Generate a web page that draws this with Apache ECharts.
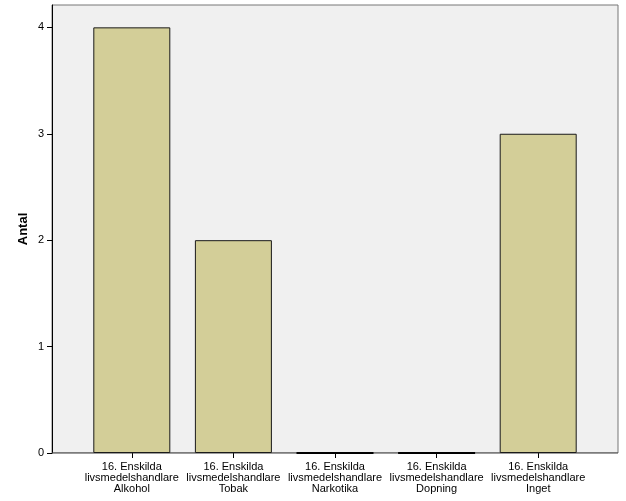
<!DOCTYPE html>
<html><head><meta charset="utf-8">
<script src="https://cdn.jsdelivr.net/npm/echarts@6/dist/echarts.min.js"></script>
<style>html,body{margin:0;padding:0;background:#fff}#c{width:626px;height:501px}</style>
</head><body><div id="c"></div>
<script>
const categories = [
  "16. Enskilda\nlivsmedelshandlare\nAlkohol",
  "16. Enskilda\nlivsmedelshandlare\nTobak",
  "16. Enskilda\nlivsmedelshandlare\nNarkotika",
  "16. Enskilda\nlivsmedelshandlare\nDopning",
  "16. Enskilda\nlivsmedelshandlare\nInget"
];
const values = [4, 2, 0, 0, 3];
const yTicks = [0, 1, 2, 3, 4];
const yMax = 4.21;
const font = "Liberation Sans, Arial, sans-serif";

const barData = values.map(v => v === 0
  ? {value: v, itemStyle: {borderColor: '#000', borderWidth: 2}}
  : v);

const chart = echarts.init(document.getElementById('c'), null, {renderer: 'canvas'});
chart.setOption({
  animation: false,
  backgroundColor: '#ffffff',
  grid: [
    {left: 52, top: 5, width: 566, height: 448, show: true, backgroundColor: '#f0f0f0', borderColor: '#777', borderWidth: 1},
    {left: 81, top: 5, width: 508, height: 448}
  ],
  xAxis: [
    {gridIndex: 0, type: 'value', min: 0, max: 1, show: false},
    {gridIndex: 1, type: 'category', data: categories,
     axisLine: {show: false},
     axisTick: {show: true, alignWithLabel: true, length: 5, lineStyle: {color: '#000'}},
     axisLabel: {color: '#000', fontFamily: font, fontSize: 11, lineHeight: 11, margin: 8, interval: 0}
    }
  ],
  yAxis: [
    {gridIndex: 0, type: 'value', min: 0, max: yMax,
     name: 'Antal', nameLocation: 'middle', nameGap: 22, nameMoveOverlap: false,
     nameTextStyle: {fontFamily: font, fontSize: 13, fontWeight: 'bold', color: '#000'},
     axisLine: {show: true, lineStyle: {color: '#000', width: 1}},
     axisTick: {show: true, length: 5, lineStyle: {color: '#000'}, customValues: yTicks},
     axisLabel: {color: '#000', fontFamily: font, fontSize: 11, margin: 8, customValues: yTicks},
     splitLine: {show: false}
    },
    {gridIndex: 1, type: 'value', min: 0, max: yMax, show: false}
  ],
  series: [
    {type: 'line', xAxisIndex: 0, yAxisIndex: 0, data: [[0, 0], [1, 0]], symbol: 'none',
     lineStyle: {color: '#444', width: 1}, silent: true, z: 3},
    {type: 'bar', xAxisIndex: 1, yAxisIndex: 1, data: barData, barWidth: 77,
     itemStyle: {color: '#d3ce98', borderColor: '#1a1a1a', borderWidth: 1}, z: 4}
  ]
});
</script></body></html>
